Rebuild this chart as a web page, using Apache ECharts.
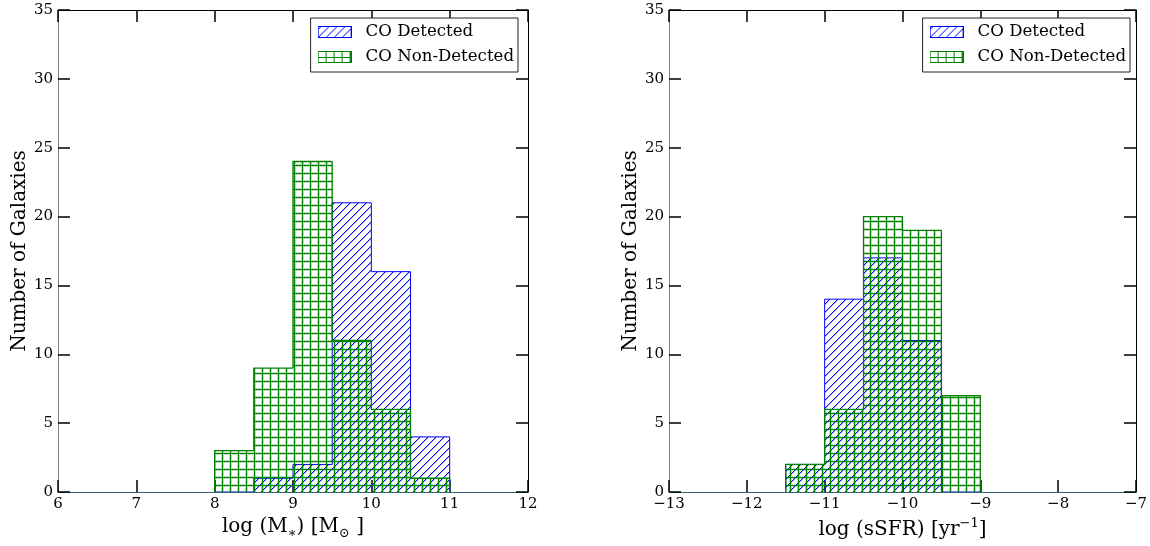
<!DOCTYPE html>
<html>
<head>
<meta charset="utf-8">
<script src="https://cdn.jsdelivr.net/npm/echarts@6/dist/echarts.min.js"></script>
<style>
html,body{margin:0;padding:0;background:#fff;}
#chart{width:1150px;height:546px;}
</style>
</head>
<body>
<div id="chart"></div>
<script>
// ---- data ----
const massEdges = [8.0, 8.5, 9.0, 9.5, 10.0, 10.5, 11.0];
const massDetected = [0, 1, 2, 21, 16, 4];
const massNonDetected = [3, 9, 24, 11, 6, 1];

const ssfrEdges = [-11.5, -11.0, -10.5, -10.0, -9.5, -9.0];
const ssfrDetected = [2, 14, 17, 11, 0];
const ssfrNonDetected = [2, 6, 20, 19, 7];

const massRange = [6, 12];
const ssfrRange = [-13, -7];
const countRange = [0, 35];
const seriesNames = ['CO Detected', 'CO Non-Detected'];

// ---- styling ----
const FONT = 'DejaVu Serif';
const BLUE = '#0000ff';
const GREEN = '#008000';
const BLUE_RGB = [0, 0, 255];
const GREEN_RGB = [0, 128, 0];

// hatch texture for one bar, aligned to the page pixel grid
function hatchCanvas(kind, X0, Y0, W, H) {
  const c = document.createElement('canvas');
  c.width = Math.max(1, W); c.height = Math.max(1, H);
  const g = c.getContext('2d');
  const img = g.createImageData(c.width, c.height);
  const d = img.data;
  const rgb = kind === 'diag' ? BLUE_RGB : GREEN_RGB;
  const S = 8;
  const mod = v => ((v % S) + S) % S;
  const lineA = m => (m === 5 ? 1 : (m === 4 || m === 6) ? 0.25 : 0);
  for (let j = 0; j < c.height; j++) {
    for (let i = 0; i < c.width; i++) {
      let a;
      if (kind === 'diag') {
        const m = mod((X0 + i) + (Y0 + j));
        a = m === 0 ? 1 : (m === 1 ? 0.3 : 0);
      } else {
        a = Math.max(lineA(mod(X0 + i - 1)), lineA(mod(Y0 + j)));
      }
      if (a > 0) {
        const k = (j * c.width + i) * 4;
        d[k] = rgb[0]; d[k + 1] = rgb[1]; d[k + 2] = rgb[2]; d[k + 3] = Math.round(a * 255);
      }
    }
  }
  g.putImageData(img, 0, 0);
  return c;
}

function histData(edges, counts) {
  return counts.map((c, i) => [edges[i], edges[i + 1], c, i > 0 ? counts[i - 1] : 0, i === counts.length - 1 ? 1 : 0]);
}

function histSeries(name, edges, counts, axisIdx, kind, color, lw, z) {
  return {
    type: 'custom',
    name: name,
    xAxisIndex: axisIdx,
    yAxisIndex: axisIdx,
    clip: true,
    z: z,
    itemStyle: { color: color },
    data: histData(edges, counts),
    renderItem: function (params, api) {
      const x0 = api.value(0), x1 = api.value(1), c = api.value(2), p = api.value(3), last = api.value(4);
      const a = api.coord([x0, 0]);
      const b = api.coord([x1, c]);
      const pp = api.coord([x0, p]);
      const pts = [[a[0], pp[1]], [a[0], b[1]], [b[0], b[1]]];
      if (last) pts.push([b[0], a[1]]);
      const children = [];
      if (c > 0) {
        const X0 = Math.round(a[0]), X1 = Math.round(b[0]);
        const Y0 = Math.round(b[1]), Y1 = Math.round(a[1]);
        children.push({
          type: 'image', silent: true,
          style: { image: hatchCanvas(kind, X0, Y0, X1 - X0, Y1 - Y0), x: X0, y: Y0, width: X1 - X0, height: Y1 - Y0 }
        });
      }
      children.push({ type: 'polyline', shape: { points: pts }, style: { stroke: color, lineWidth: lw, fill: null } });
      return { type: 'group', children: children };
    }
  };
}

// legend patches drawn as small images
function legendIcon(kind, color) {
  const w = 34, h = 12;
  const c = document.createElement('canvas');
  c.width = w; c.height = h;
  const g = c.getContext('2d');
  g.fillStyle = '#ffffff';
  g.fillRect(0, 0, w, h);
  g.fillStyle = color;
  if (kind === 'diag') {
    for (let x = 0; x < w; x++) for (let y = 0; y < h; y++) if ((x + y) % 8 === 3) g.fillRect(x, y, 1, 1);
  } else {
    for (let x = 8; x < w - 1; x += 8) g.fillRect(x, 0, 1, h);
    g.fillRect(0, 6, w, 1);
  }
  g.fillRect(0, 0, w, 1); g.fillRect(0, h - 1, w, 1);
  g.fillRect(0, 0, 1, h); g.fillRect(w - 1, 0, 1, h);
  return 'image://' + c.toDataURL();
}
const iconDetected = legendIcon('diag', BLUE);
const iconNonDetected = legendIcon('grid', GREEN);

const tickStyle = { show: true, inside: true, length: 12, lineStyle: { color: '#000', width: 1.5 } };
const labelStyle = { color: '#000', fontFamily: FONT, fontSize: 15, margin: 5, showMinLabel: true, showMaxLabel: true };
const minusFmt = v => String(v).replace('-', '\u2212');

function xAxes(gridIndex, range, name, rich) {
  return [
    {
      gridIndex, type: 'value', min: range[0], max: range[1], interval: 1, position: 'bottom',
      axisLine: { show: true, onZero: false, lineStyle: { color: '#2f6272', width: 1 } },
      axisTick: tickStyle,
      axisLabel: Object.assign({}, labelStyle, { formatter: minusFmt }),
      splitLine: { show: false },
      name: name, nameLocation: 'middle', nameGap: 19,
      nameTextStyle: { rich: rich }
    },
    {
      gridIndex, type: 'value', min: range[0], max: range[1], interval: 1, position: 'top',
      axisLine: { show: true, onZero: false, lineStyle: { color: '#000', width: 1 } },
      axisTick: tickStyle, axisLabel: { show: false }, splitLine: { show: false }
    }
  ];
}
function yAxes(gridIndex) {
  return [
    {
      gridIndex, type: 'value', min: countRange[0], max: countRange[1], interval: 5, position: 'left',
      axisLine: { show: true, onZero: false, lineStyle: { color: '#808080', width: 1 } },
      axisTick: tickStyle, axisLabel: labelStyle, splitLine: { show: false },
      name: 'Number of Galaxies', nameLocation: 'middle', nameGap: 27,
      nameTextStyle: { color: '#000', fontFamily: FONT, fontSize: 20 }
    },
    {
      gridIndex, type: 'value', min: countRange[0], max: countRange[1], interval: 5, position: 'right',
      axisLine: { show: true, onZero: false, lineStyle: { color: '#000', width: 1 } },
      axisTick: tickStyle, axisLabel: { show: false }, splitLine: { show: false }
    }
  ];
}

const nameRich = {
  n: { fontFamily: FONT, fontSize: 20, color: '#000', lineHeight: 26 },
  s: { fontFamily: FONT, fontSize: 13, color: '#000', lineHeight: 14, verticalAlign: 'bottom' },
  p: { fontFamily: FONT, fontSize: 13, color: '#000', lineHeight: 14, verticalAlign: 'top' }
};

// axes: bottom x = 0 (left panel), 2 (right panel); top x = 1, 3
//       left y = 0, 2 ; right y = 1, 3
const xs = xAxes(0, massRange, '{n|log (M}{s|\u2217}{n|) [M}{s|\u2299}{n| ]}', nameRich)
  .concat(xAxes(1, ssfrRange, '{n|log (sSFR) [yr}{p|\u22121}{n|]}', nameRich));
const ys = yAxes(0).concat(yAxes(1));

function legendFor(rightPx) {
  return {
    right: rightPx, top: 18, orient: 'vertical',
    data: [
      { name: seriesNames[0], icon: iconDetected },
      { name: seriesNames[1], icon: iconNonDetected }
    ],
    itemWidth: 34, itemHeight: 12, itemGap: 7,
    selectedMode: false,
    padding: [5, 4, 6, 7],
    borderColor: '#222', borderWidth: 1, borderRadius: 0,
    backgroundColor: '#fff',
    textStyle: { color: '#000', fontFamily: FONT, fontSize: 16.6, lineHeight: 18, padding: [0, 0, 0, 9] }
  };
}

const option = {
  animation: false,
  backgroundColor: '#fff',
  grid: [
    { left: 58, top: 10, width: 470, height: 482 },
    { left: 669, top: 10, width: 469, height: 482 }
  ],
  xAxis: xs,
  yAxis: ys,
  legend: [legendFor(632), legendFor(20)],
  series: [
    histSeries(seriesNames[0], massEdges, massDetected, 0, 'diag', BLUE, 1, 2),
    histSeries(seriesNames[1], massEdges, massNonDetected, 0, 'grid', GREEN, 1.3, 3),
    histSeries(seriesNames[0], ssfrEdges, ssfrDetected, 2, 'diag', BLUE, 1, 2),
    histSeries(seriesNames[1], ssfrEdges, ssfrNonDetected, 2, 'grid', GREEN, 1.3, 3)
  ]
};
const chart = echarts.init(document.getElementById('chart'), null, { renderer: 'canvas' });
chart.setOption(option);
</script>
</body>
</html>
